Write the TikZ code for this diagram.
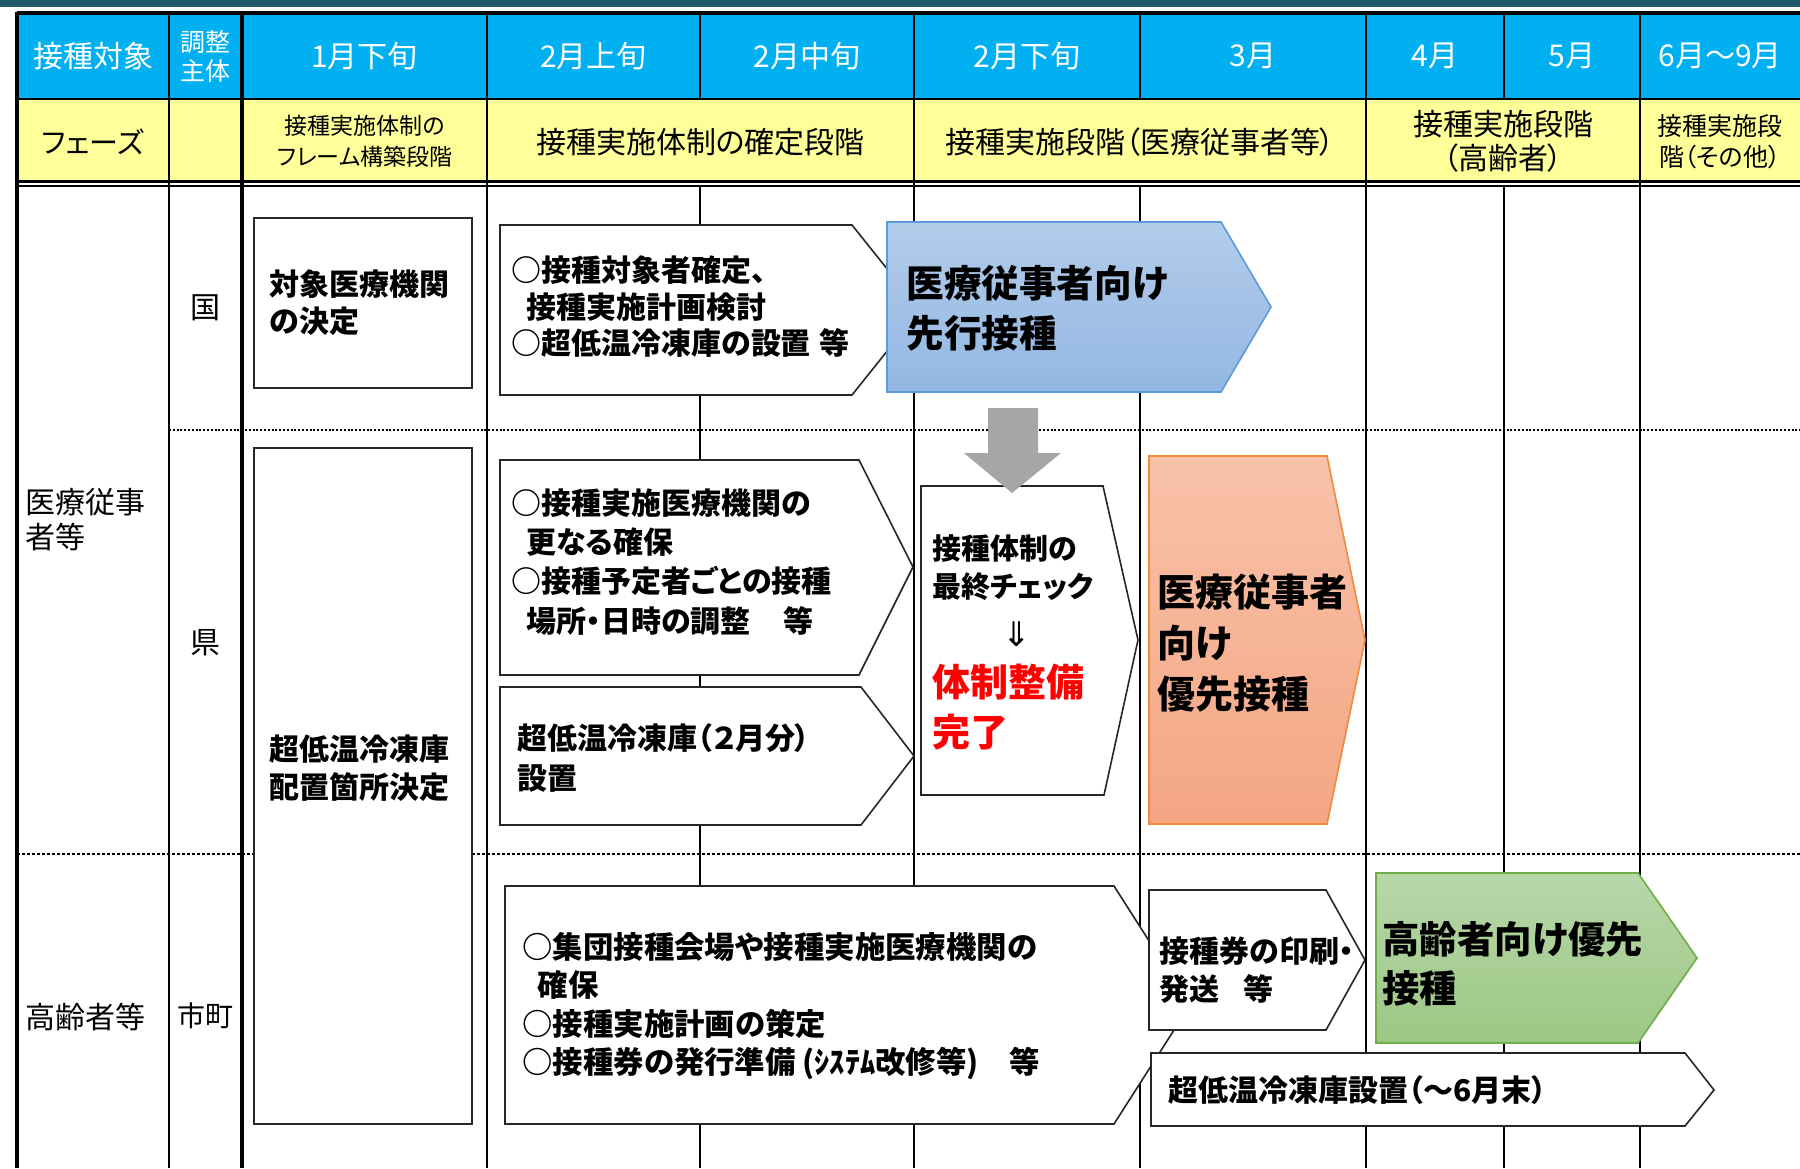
\documentclass[tikz,border=0pt]{standalone}
\usepackage{fontspec}
\setmainfont{Noto Sans CJK JP}[RawFeature=+palt]
\newfontfamily\dejavu{DejaVu Sans}
\definecolor{topbar}{HTML}{215A6B}
\definecolor{hdrblue}{HTML}{00B0F0}
\definecolor{hdryellow}{HTML}{FFFF99}
\definecolor{bluetop}{HTML}{B3CCEA}
\definecolor{bluebot}{HTML}{93B7E3}
\definecolor{blueedge}{HTML}{5B9BD5}
\definecolor{orgtop}{HTML}{F8C2AA}
\definecolor{orgbot}{HTML}{F4A683}
\definecolor{orgedge}{HTML}{F08A3C}
\definecolor{grntop}{HTML}{B8D7AA}
\definecolor{grnbot}{HTML}{9CC784}
\definecolor{grnedge}{HTML}{70AD47}
\definecolor{arrowgray}{HTML}{A6A6A6}
\tikzset{
  gridline/.style={line width=0.75pt, black},
  thickline/.style={line width=1.6pt, black},
  wbox/.style={draw=black!85, line width=0.8pt, fill=white},
  hdr/.style={text=white, inner sep=0pt, font=\fontsize{15}{18}\selectfont},
  phase/.style={text=black, inner sep=0pt, align=center},
  rowlab/.style={text=black, inner sep=0pt, align=left, font=\fontsize{15}{17.5}\selectfont},
  btxt/.style={text=black, inner sep=0pt, align=left, anchor=west},
}
\begin{document}
\begin{tikzpicture}[x=0.5pt,y=-0.5pt]
\useasboundingbox (0,0) rectangle (1800,1168);
\clip (0,0) rectangle (1800,1168);
\fill[white] (0,0) rectangle (1800,1168);
% top bar
\fill[topbar] (0,0) rectangle (1800,7);
% header fills
\fill[hdrblue] (17,13) rectangle (1800,99);
\fill[hdryellow] (17,99) rectangle (1800,182);
% vertical lines
\foreach \xx in {169,487,914,1366,1640} \draw[gridline] (\xx,13) -- (\xx,1168);
\foreach \xx in {700,1140,1504} {\draw[gridline] (\xx,13) -- (\xx,99); \draw[gridline] (\xx,186) -- (\xx,1168);}
\draw[thickline] (17,11.5) -- (17,1168);
\draw[line width=1.8pt] (242,13) -- (242,1168);
% horizontal header lines
\draw[thickline] (17,13) -- (1800,13);
\draw[gridline] (17,99) -- (1800,99);
\draw[line width=1.4pt] (17,181.5) -- (1800,181.5);
\draw[line width=0.6pt] (17,186) -- (1800,186);
% dotted separators
\draw[line width=1.1pt, dash pattern=on 1pt off 0.9pt] (169,430) -- (1800,430);
\draw[line width=0.6pt, dash pattern=on 1.5pt off 1pt] (17,854) -- (1800,854);

% header row 1
\node[hdr] (h1) at (93,56) {接種対象};
\node[hdr, align=center, font=\fontsize{12.5}{14.5}\selectfont] (h2) at (205.5,56.5) {調整\\主体};
\node[hdr] (h3) at (364.5,56) {1月下旬};
\node[hdr] (h4) at (593.5,56) {2月上旬};
\node[hdr] (h5) at (807,56) {2月中旬};
\node[hdr] (h6) at (1027,56) {2月下旬};
\node[hdr] (h7) at (1253,56) {3月};
\node[hdr] (h8) at (1435,56) {4月};
\node[hdr] (h9) at (1572,56) {5月};
\node[hdr] (h10) at (1720,56) {6月～9月};
% header row 2
\node[phase, font=\fontsize{14.5}{17}\selectfont] (p1) at (93,142) {フェーズ};
\node[phase, font=\fontsize{11.5}{15.5}\selectfont] (p2) at (365,141.5) {接種実施体制の\\フレーム構築段階};
\node[phase, font=\fontsize{15}{18}\selectfont] (p3) at (700.5,142) {接種実施体制の確定段階};
\node[phase, font=\fontsize{15}{17}\selectfont] (p4) at (1140,142) {接種実施段階（医療従事者等）};
\node[phase, font=\fontsize{15}{17}\selectfont] (p5) at (1503,141) {接種実施段階\\（高齢者）};
\node[phase, font=\fontsize{12.5}{15.5}\selectfont] (p6) at (1720,141.5) {接種実施段\\階（その他）};
% row labels
\node[rowlab, anchor=west] (r1) at (25,519.5) {医療従事\\者等};
\node[rowlab, anchor=west] (r2) at (25,1017) {高齢者等};
\node[rowlab] (c1) at (205.5,308) {国};
\node[rowlab] (c2) at (205.5,643) {県};
\node[rowlab, font=\fontsize{14}{17}\selectfont] (c3) at (205.5,1016) {市町};

% box 1 and 2
\draw[wbox] (254,218) rectangle (472,388);
\node[btxt, font=\bfseries\fontsize{15}{18.5}\selectfont] (t1) at (269,302.5) {対象医療機関\\の決定};
\draw[wbox] (254,448) rectangle (472,1124);
\node[btxt, font=\bfseries\fontsize{15}{19}\selectfont] (t2) at (269,768) {超低温冷凍庫\\配置箇所決定};

% box 3
\draw[wbox] (500,225) -- (852,225) -- (920,310) -- (852,395) -- (500,395) -- cycle;
\node[btxt, font=\bfseries\fontsize{15}{18.25}\selectfont] (t3) at (511,307) {○接種対象者確定、\\\hspace*{0.5em}接種実施計画検討\\○超低温冷凍庫の設置\hspace{0.3em}等};
% blue arrow
\path[draw=blueedge, line width=0.8pt, top color=bluetop, bottom color=bluebot] (887,222) -- (1221,222) -- (1271,307) -- (1221,392) -- (887,392) -- cycle;
\node[btxt, font=\bfseries\fontsize{18.8}{25}\selectfont] (t4) at (906,308) {医療従事者向け\\先行接種};

% box 8
\draw[wbox] (500,460) -- (859,460) -- (913,567) -- (859,675) -- (500,675) -- cycle;
\node[btxt, font=\bfseries\fontsize{15}{19.6}\selectfont] (t8) at (511,562) {○接種実施医療機関の\\\hspace*{0.5em}更なる確保\\○接種予定者ごとの接種\\\hspace*{0.5em}場所・日時の調整\hspace{1.1em}等};
% box 9
\draw[wbox] (500,687) -- (861,687) -- (914,756) -- (861,825) -- (500,825) -- cycle;
\node[btxt, font=\bfseries\fontsize{15}{20}\selectfont] (t9) at (517,758) {超低温冷凍庫（２月分）\\設置};

% box 6
\draw[wbox] (921,486) -- (1103,486) -- (1138,640) -- (1104,795) -- (921,795) -- cycle;
\node[btxt, font=\bfseries\fontsize{14.5}{19}\selectfont] (t6a) at (932,568) {接種体制の\\最終チェック};
\node[inner sep=0pt, font=\dejavu\fontsize{17}{19}\selectfont] (t6b) at (1017,634) {⇓};
\node[btxt, text=red, font=\bfseries\fontsize{19}{25}\selectfont] (t6c) at (932,707) {体制整備\\完了};
% orange
\path[draw=orgedge, line width=0.8pt, top color=orgtop, bottom color=orgbot] (1149,456) -- (1327,456) -- (1365,640) -- (1327,824) -- (1149,824) -- cycle;
\node[btxt, font=\bfseries\fontsize{19}{25.5}\selectfont] (t7) at (1157,643) {医療従事者\\向け\\優先接種};
% gray arrow
\fill[arrowgray] (988,408) -- (1038,408) -- (1038,453) -- (1061,453) -- (1012,493) -- (964,453) -- (988,453) -- cycle;

% box 10
\draw[wbox] (505,886) -- (1114,886) -- (1190,1005) -- (1114,1124) -- (505,1124) -- cycle;
\node[btxt, font=\bfseries\fontsize{15.2}{19.3}\selectfont] (t10) at (522,1006) {○集団接種会場や接種実施医療機関の\\\hspace*{0.5em}確保\\○接種実施計画の策定\\○接種券の発行準備 (ｼｽﾃﾑ改修等)\hspace{1em}等};
% box 11
\draw[wbox] (1149,890) -- (1326,890) -- (1365,960) -- (1326,1030) -- (1149,1030) -- cycle;
\node[btxt, font=\bfseries\fontsize{15}{19}\selectfont] (t11) at (1159,970) {接種券の印刷・\\発送\hspace{0.8em}等};
% box 13
\draw[wbox] (1151,1053) -- (1685,1053) -- (1714,1090) -- (1685,1126) -- (1151,1126) -- cycle;
\node[btxt, font=\bfseries\fontsize{15}{17}\selectfont] (t13) at (1168,1090) {超低温冷凍庫設置（～6月末）};
% green
\path[draw=grnedge, line width=0.8pt, top color=grntop, bottom color=grnbot] (1376,873) -- (1638,873) -- (1697,958) -- (1638,1043) -- (1376,1043) -- cycle;
\node[btxt, font=\bfseries\fontsize{18.7}{24.5}\selectfont] (t12) at (1382,963.5) {高齢者向け優先\\接種};
\end{tikzpicture}
\end{document}
